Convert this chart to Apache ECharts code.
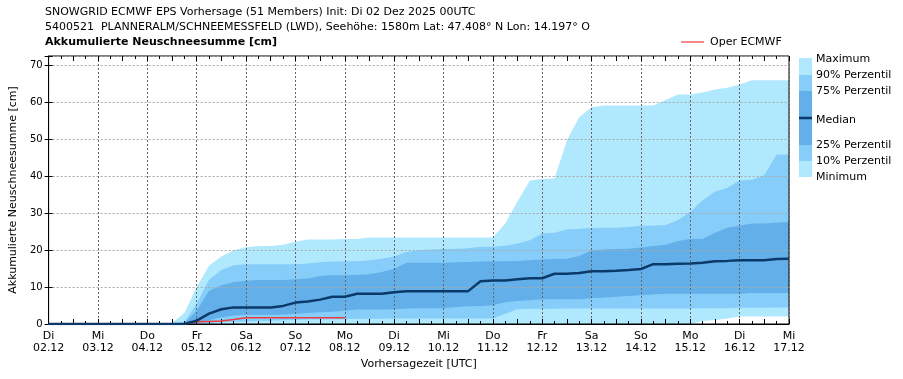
<!DOCTYPE html>
<html>
<head>
<meta charset="utf-8">
<script src="https://cdn.jsdelivr.net/npm/echarts@6/dist/echarts.min.js"></script>
<style>
html,body{margin:0;padding:0;background:#fff;}
#chart{width:903px;height:379px;}
</style>
</head>
<body>
<div id="chart"></div>
<script>
// ---- data (6-hourly steps from Di 02.12.2025 00UTC) ----
const dayNames = ['Di','Mi','Do','Fr','Sa','So','Mo','Di','Mi','Do','Fr','Sa','So','Mo','Di','Mi'];
const dayDates = ['02.12','03.12','04.12','05.12','06.12','07.12','08.12','09.12','10.12','11.12','12.12','13.12','14.12','15.12','16.12','17.12'];
const yTicks = [0,10,20,30,40,50,60,70];

const maxVals = [0,0,0,0,0,0,0,0,0,0, 0.3,3,10,15.8,18.3,20,20.8,21.1,21.1,21.5,
  22.3,22.9,22.9,22.9,23.0,23.0,23.4,23.4,23.4,23.4, 23.4,23.4,23.4,23.4,23.4,23.4,23.4,27.2,33.2,38.9,
  39.3,39.4,49.7,56,58.7,59.2,59.2,59.2,59.2,59.2, 60.7,62.2,62.2,62.7,63.5,64.0,64.9,66,66,66,66];
const p90 = [0,0,0,0,0,0,0,0,0,0, 0,0.5,5.5,12,14.6,15.9,16.2,16.2,16.2,16.2,
  16.2,16.4,16.7,16.9,17.0,17.0,17.3,17.7,18.3,19.5, 20.0,20.2,20.3,20.4,20.5,20.9,20.9,21.2,21.8,22.7,
  24.5,24.7,25.6,25.8,26.0,26.1,26.1,26.3,26.6,26.6, 26.8,28.1,30.4,33.5,35.8,36.9,38.9,39.1,40.3,45.9,45.9];
const p75 = [0,0,0,0,0,0,0,0,0,0, 0,0.3,3.5,9,10.5,11.4,11.7,11.9,11.9,11.9,
  12.1,12.3,13.0,13.2,13.2,13.3,13.5,14.1,15.0,16.6, 16.6,16.6,16.6,16.7,16.8,16.9,17.0,17.0,17.1,17.3,
  17.5,17.6,17.7,18.4,20.0,20.2,20.3,20.4,20.7,21.1, 21.5,22.5,23.0,23.0,24.7,26.1,26.6,27.2,27.2,27.4,27.7];
const median = [0,0,0,0,0,0,0,0,0,0, 0,0,0.9,2.8,4.0,4.5,4.5,4.5,4.5,4.9,
  5.8,6.1,6.6,7.4,7.4,8.2,8.2,8.2,8.6,8.9, 8.9,8.9,8.9,8.9,8.9,11.6,11.8,11.8,12.1,12.4,
  12.4,13.6,13.6,13.8,14.3,14.3,14.4,14.6,14.9,16.2, 16.2,16.3,16.4,16.6,17.0,17.1,17.3,17.3,17.3,17.6,17.7];
const p25 = [0,0,0,0,0,0,0,0,0,0, 0,0,0.3,1.0,1.8,2.3,2.5,2.5,2.5,2.5,
  2.8,3.0,3.2,3.3,3.6,3.9,3.9,3.9,4.0,4.2, 4.3,4.3,4.3,4.6,4.8,4.9,5.1,5.9,6.2,6.4,
  6.7,6.7,6.7,6.7,7.0,7.2,7.4,7.6,7.8,8.0, 8.2,8.2,8.2,8.2,8.2,8.2,8.2,8.4,8.4,8.4,8.4];
const p10 = [0,0,0,0,0,0,0,0,0,0, 0,0,0.1,0.3,0.5,0.6,0.7,0.8,0.9,1.0,
  1.1,1.2,1.2,1.3,1.3,1.4,1.4,1.4,1.5,1.5, 1.5,1.5,1.5,1.5,1.5,1.5,1.5,2.8,4.0,4.1,
  4.1,4.1,4.2,4.2,4.2,4.2,4.2,4.2,4.2,4.2, 4.2,4.2,4.2,4.3,4.3,4.3,4.4,4.4,4.4,4.5,4.5];
const minVals = [0,0,0,0,0,0,0,0,0,0, 0,0,0,0,0,0,0,0,0,0,
  0,0,0,0,0,0,0,0,0,0, 0,0,0,0,0,0,0,0,0,0,
  0,0,0,0,0,0,0,0,0,0, 0,0,0,0.8,1.1,1.5,2.0,2.0,2.0,2.0,2.0];
const oper = [0,0,0,0,0,0,0,0,0,0, 0,0,0.6,0.7,0.8,1.2,1.7,1.7,1.7,1.7,
  1.7,1.7,1.7,1.7,1.7];

// time axis in hours since init (6h steps)
const stepHours = 6;
const hours = maxVals.map((_, i) => i * stepHours);

const C_LIGHT = '#b0e8fe', C_MID = '#86cdfa', C_DARK = '#62afe9', C_MED = '#0b3a6a', C_RED = '#ee3b3b';

function pairs(arr){ return arr.map((v,i)=>[hours[i], v]); }

// layered areas from 0, painted top-down so each band shows its colour
function area(name, arr, color, z){
  return {name, type:'line', data:pairs(arr), symbol:'none', z:1, zlevel:0,
    lineStyle:{width:0, opacity:0}, areaStyle:{color, opacity:1, origin:'start'},
    silent:true, animation:false};
}

const series = [
  area('max', maxVals, C_LIGHT),
  area('p90', p90, C_MID),
  area('p75', p75, C_DARK),
  area('p25', p25, C_MID),
  area('p10', p10, C_LIGHT),
  area('min', minVals, '#ffffff'),
  {name:'Oper ECMWF', type:'line', data:pairs(oper), symbol:'none', z:5,
    lineStyle:{width:1.5, color:C_RED}, animation:false},
  {name:'Median', type:'line', data:pairs(median), symbol:'none', z:6,
    lineStyle:{width:2.5, color:C_MED}, animation:false}
];

const labelFont = 'DejaVu Sans';
const legendItems = [
  {t:'Maximum', y:59.5}, {t:'90% Perzentil', y:75}, {t:'75% Perzentil', y:91},
  {t:'Median', y:120.5}, {t:'25% Perzentil', y:145.5}, {t:'10% Perzentil', y:161.5}, {t:'Minimum', y:177}
];
const graphic = [
  {type:'rect', shape:{x:799, y:58, width:13, height:17}, style:{fill:C_LIGHT}},
  {type:'rect', shape:{x:799, y:75, width:13, height:16}, style:{fill:C_MID}},
  {type:'rect', shape:{x:799, y:91, width:13, height:27}, style:{fill:C_DARK}},
  {type:'rect', shape:{x:799, y:118, width:13, height:27}, style:{fill:C_DARK}},
  {type:'rect', shape:{x:799, y:145, width:13, height:16}, style:{fill:C_MID}},
  {type:'rect', shape:{x:799, y:161, width:13, height:16}, style:{fill:C_LIGHT}},
  {type:'line', shape:{x1:799, y1:118, x2:812, y2:118}, style:{stroke:C_MED, lineWidth:2.5}},
  {type:'line', shape:{x1:681, y1:42, x2:704, y2:42}, style:{stroke:C_RED, lineWidth:1.2}},
  {type:'text', x:710, y:42.5, style:{text:'Oper ECMWF', font:'11px "DejaVu Sans"', fill:'#000', verticalAlign:'middle'}},
  {type:'text', x:45, y:12.5, style:{text:'SNOWGRID ECMWF EPS Vorhersage (51 Members) Init: Di 02 Dez 2025 00UTC', font:'11px "DejaVu Sans"', fill:'#000', verticalAlign:'middle'}},
  {type:'text', x:45, y:27, style:{text:'5400521  PLANNERALM/SCHNEEMESSFELD (LWD), Seehöhe: 1580m Lat: 47.408° N Lon: 14.197° O', font:'11px "DejaVu Sans"', fill:'#000', verticalAlign:'middle'}},
  {type:'text', x:45, y:42.5, style:{text:'Akkumulierte Neuschneesumme [cm]', font:'bold 11px "DejaVu Sans"', fill:'#000', verticalAlign:'middle'}}
].concat(legendItems.map(it => ({type:'text', x:816, y:it.y,
  style:{text:it.t, font:'11px "DejaVu Sans"', fill:'#000', verticalAlign:'middle'}})));

const gridBox = {left:45, right:114, top:56, bottom:55};

const option = {
  animation:false,
  backgroundColor:'#fff',
  grid: Object.assign({show:true, borderColor:'#000', borderWidth:1, backgroundColor:'transparent', z:3}, gridBox),
  xAxis: [
    {type:'value', min:0, max:360, interval:24, position:'bottom', z:3,
      name:'Vorhersagezeit [UTC]', nameLocation:'middle', nameGap:33,
      nameTextStyle:{fontFamily:labelFont, fontSize:11, color:'#000'},
      axisLine:{show:true, lineStyle:{color:'#000', width:1}},
      axisTick:{show:false},
      axisLabel:{margin:6, fontFamily:labelFont, fontSize:11, color:'#000', lineHeight:12,
        formatter: v => { const k = Math.round(v/24); return (v % 24 === 0 && k < dayNames.length) ? dayNames[k] + '\n' + dayDates[k] : ''; }},
      splitLine:{show:true, lineStyle:{color:'#666', type:[2,2], width:1}}},
    {type:'value', min:0, max:360, interval:12, position:'bottom', z:3,
      axisLine:{show:false}, axisLabel:{show:false}, splitLine:{show:false},
      axisTick:{show:true, inside:true, length:5, lineStyle:{color:'#000'}},
      minorTick:{show:true, splitNumber:2, length:3, lineStyle:{color:'#000'}}},
    {type:'value', min:0, max:360, interval:12, position:'top', z:3,
      axisLine:{show:false}, axisLabel:{show:false}, splitLine:{show:false},
      axisTick:{show:true, inside:true, length:5, lineStyle:{color:'#000'}},
      minorTick:{show:true, splitNumber:2, length:3, lineStyle:{color:'#000'}}}
  ],
  yAxis: [
    {type:'value', min:0, max:72.6, interval:10, position:'left', z:3,
      name:'Akkumulierte Neuschneesumme [cm]', nameLocation:'middle', nameGap:24, nameRotate:90,
      nameTextStyle:{fontFamily:labelFont, fontSize:11, color:'#000'},
      axisLine:{show:true, lineStyle:{color:'#000', width:1}},
      axisTick:{show:true, inside:true, length:4, lineStyle:{color:'#000'}},
      axisLabel:{margin:6, fontFamily:labelFont, fontSize:10, color:'#000',
        formatter: v => (yTicks.indexOf(v) >= 0 ? String(v) : '')},
      splitLine:{show:true, lineStyle:{color:'#aaa', type:[2,2], width:1}}},
    {type:'value', min:0, max:72.6, interval:10, position:'right', z:3,
      axisLine:{show:false}, axisLabel:{show:false}, splitLine:{show:false},
      axisTick:{show:true, inside:true, length:4, lineStyle:{color:'#000'}}}
  ],
  series: series.map(s => Object.assign({xAxisIndex:0, yAxisIndex:0}, s)),
  graphic: graphic
};

const chart = echarts.init(document.getElementById('chart'), null, {renderer:'canvas'});
chart.setOption(option);
</script>
</body>
</html>
